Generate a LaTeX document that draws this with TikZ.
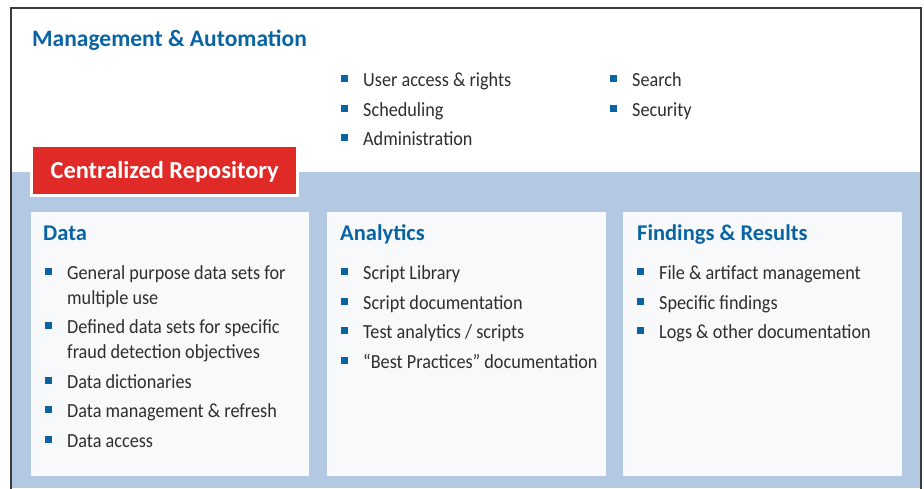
\documentclass[tikz,border=0pt]{standalone}
\usepackage{fontspec}
\setmainfont{Carlito}
\newfontfamily\bodyfont{Carlito}[FakeStretch=0.91]
\definecolor{titleblue}{HTML}{0A64A4}
\definecolor{bgblue}{HTML}{B3C8E2}
\definecolor{panelfill}{HTML}{F8F9FB}
\definecolor{repred}{HTML}{E02A27}
\definecolor{bodygrey}{HTML}{2E2E2E}
\definecolor{framegrey}{HTML}{3A3A3A}
\newcommand{\sqbul}{\makebox[0pt][r]{\textcolor{titleblue}{\raisebox{4pt}{\rule{7pt}{7pt}}}\hspace{15pt}}}
\tikzset{
  panel/.style={fill=panelfill, draw=none},
  heading/.style={anchor=base west, inner sep=0pt, text=titleblue, font=\fontsize{22.5}{26}\selectfont\bfseries},
  itemtext/.style={anchor=base west, inner sep=0pt, text=bodygrey, font=\bodyfont\fontsize{20}{25}\selectfont},
}
\begin{document}
\begin{tikzpicture}[x=1pt, y=-1pt]
\useasboundingbox (0,0) rectangle (924,488);
% background
\fill[white] (0,0) rectangle (924,488);
\fill[bgblue] (11,172) rectangle (921,488);
\draw[framegrey, line width=1.3pt] (11,500) -- (11,8) -- (921,8) -- (921,500);
% management
\node[heading, font=\fontsize{23.5}{26}\selectfont\bfseries] (mtitle) at (32,46.5) {Management \& Automation};
\node[itemtext] (m1) at (363,86) {\sqbul User access \& rights};
\node[itemtext] (m2) at (363,116) {\sqbul Scheduling};
\node[itemtext] (m3) at (363,145) {\sqbul Administration};
\node[itemtext] (m4) at (632,86) {\sqbul Search};
\node[itemtext] (m5) at (632,116) {\sqbul Security};
% repository label
\fill[white] (30,144) rectangle (299,197);
\node[fill=repred, minimum width=263pt, minimum height=47pt, inner sep=0pt, anchor=north west,
      text height=16pt, text depth=1pt,
      text=white, font=\fontsize{24.4}{28}\selectfont\bfseries] (repo) at (33,147) {Centralized Repository};
% panels
\fill[panel] (31,212) rectangle (309,476);
\fill[panel] (327,212) rectangle (606,476);
\fill[panel] (623,212) rectangle (902,476);
% Data
\node[heading] (dh) at (43,240) {Data};
\node[itemtext] (d1) at (67,279) {\sqbul General purpose data sets for};
\node[itemtext] (d1b) at (67,304) {multiple use};
\node[itemtext] (d2) at (67,333) {\sqbul Defined data sets for specific};
\node[itemtext] (d2b) at (67,358) {fraud detection objectives};
\node[itemtext] (d3) at (67,388) {\sqbul Data dictionaries};
\node[itemtext] (d4) at (67,417) {\sqbul Data management \& refresh};
\node[itemtext] (d5) at (67,447) {\sqbul Data access};
% Analytics
\node[heading] (ah) at (340,240) {Analytics};
\node[itemtext] (a1) at (363,279) {\sqbul Script Library};
\node[itemtext] (a2) at (363,309) {\sqbul Script documentation};
\node[itemtext] (a3) at (363,338) {\sqbul Test analytics / scripts};
\node[itemtext] (a4) at (363,368) {\sqbul \textquotedblleft Best Practices\textquotedblright\ documentation};
% Findings
\node[heading] (fh) at (637,240) {Findings \& Results};
\node[itemtext] (f1) at (659,279) {\sqbul File \& artifact management};
\node[itemtext] (f2) at (659,309) {\sqbul Specific findings};
\node[itemtext] (f3) at (659,338) {\sqbul Logs \& other documentation};
\end{tikzpicture}
\end{document}
